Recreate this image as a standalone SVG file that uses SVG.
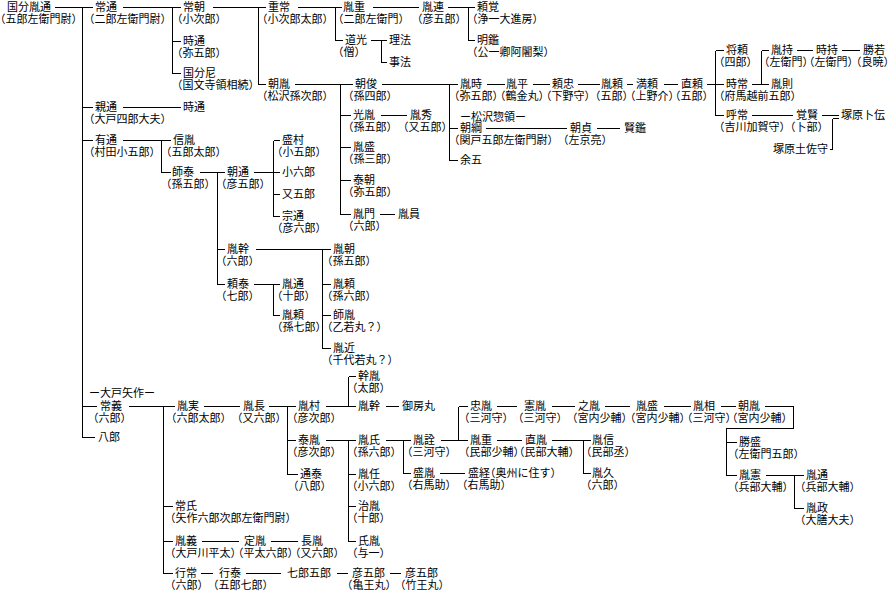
<svg xmlns="http://www.w3.org/2000/svg" width="891" height="591" viewBox="0 0 891 591">
<style>
text{font-family:"Noto Sans CJK JP","Noto Sans CJK SC",sans-serif;font-size:11px;fill:#000;font-feature-settings:"halt";}
.c{stroke:#000;stroke-width:1;fill:none;shape-rendering:crispEdges;}
</style>
<rect width="891" height="591" fill="#fff"/>
<g id="connectors" transform="translate(0.5 0.5)">
<path class="c" d="M54 7H92 M82 7V437 M82 107H92 M82 140H92 M82 406H96 M82 437H94
M122 7H180 M172 7V73 M172 41H180 M172 73H180
M212 7H265 M258 7V84 M258 84H265
M297 7H341 M335 7V40 M335 40H342
M372 7H418
M447 7H474 M468 7V40 M468 40H474
M370 40H386 M381 40V62 M381 62H386
M294 84H352 M340 84V214 M340 115H350 M340 147H350 M340 180H350 M340 214H350
M380 115H406
M379 214H394
M381 84H457 M449 84V160 M449 128H457 M449 160H457
M486 84H504 M532 84H549 M577 84H599 M626 84H632 M663 84H677
M706 84H723 M715 50V115 M715 50H723 M715 115H723
M751 84H768 M761 50V84 M761 50H768
M796 50H812 M841 50H859
M751 115H792
M821 115H838 M832 118H838 M832 118V149 M829 149H832
M485 128H566 M596 128H619
M122 107H180
M122 140H170 M161 140V172 M161 172H170
M199 172H224 M217 172V284 M217 249H224 M217 284H224
M253 172H279 M273 140V216 M273 140H279 M273 194H279 M273 216H279
M255 249H330 M322 249V348 M322 284H330 M322 315H330 M322 348H330
M253 284H279 M273 284V315 M273 315H279
M128 406H174 M163 406V573 M163 506H172 M163 541H172 M163 573H172
M203 406H239
M268 406H295 M287 406V474 M287 440H295 M287 474H297
M325 406H355 M348 376V406 M348 376H355
M385 406H398
M325 440H355 M348 440V541 M348 474H355 M348 506H355 M348 541H355
M385 440H410 M403 440V473 M403 473H410
M439 473H464
M440 440H467 M458 406V440 M458 406H467
M496 406H516 M551 406H574 M604 406H629 M663 406H690 M720 406H735
M764 406H793V428H726V475 M726 442H736 M726 475H736
M765 475H803 M794 475V508 M794 508H803
M496 440H521
M551 440H590 M583 440V473 M583 473H590
M201 541H238 M270 541H297
M200 573H212 M245 573H280 M336 573H347 M389 573H400"/>
</g>
<g id="n01"><text x="7" y="11">国分胤通<tspan x="0" dy="11.5">（五郎左衛門尉）</tspan></text></g>
<g id="n02"><text x="95" y="11">常通<tspan x="89" dy="11.5">（二郎左衛門尉）</tspan></text></g>
<g id="n03"><text x="183" y="11">常朝<tspan x="177" dy="11.5">（小次郎）</tspan></text></g>
<g id="n04"><text x="183" y="45">時通<tspan x="177" dy="11.5">（弥五郎）</tspan></text></g>
<g id="n05"><text x="183" y="77">国分尼<tspan x="177" dy="11.5">（国文寺領相続）</tspan></text></g>
<g id="n06"><text x="268" y="11">重常<tspan x="262" dy="11.5">（小次郎太郎）</tspan></text></g>
<g id="n07"><text x="268" y="88">朝胤<tspan x="262" dy="11.5">（松沢孫次郎）</tspan></text></g>
<g id="n08"><text x="343" y="11">胤重<tspan x="338" dy="11.5">（二郎左衛門）</tspan></text></g>
<g id="n09"><text x="345" y="44">道光<tspan x="338" dy="11.5">（僧）</tspan></text></g>
<g id="n10"><text x="389" y="44">理法</text></g>
<g id="n11"><text x="389" y="66">事法</text></g>
<g id="n12"><text x="422" y="11">胤連<tspan x="417" dy="11.5">（彦五郎）</tspan></text></g>
<g id="n13"><text x="477" y="11">頼覚<tspan x="472" dy="11.5">（浄一大進房）</tspan></text></g>
<g id="n14"><text x="477" y="44">明鑑<tspan x="472" dy="11.5">（公一卿阿闍梨）</tspan></text></g>
<g id="n15"><text x="355" y="88">朝俊<tspan x="348" dy="11.5">（孫四郎）</tspan></text></g>
<g id="n16"><text x="353" y="119">光胤<tspan x="348" dy="11.5">（孫五郎）</tspan></text></g>
<g id="n17"><text x="410" y="119">胤秀<tspan x="403" dy="11.5">（又五郎）</tspan></text></g>
<g id="n18"><text x="353" y="151">胤盛<tspan x="348" dy="11.5">（孫三郎）</tspan></text></g>
<g id="n19"><text x="353" y="184">泰朝<tspan x="348" dy="11.5">（弥五郎）</tspan></text></g>
<g id="n20"><text x="353" y="218">胤門<tspan x="348" dy="11.5">（六郎）</tspan></text></g>
<g id="n21"><text x="398" y="218">胤員</text></g>
<g id="n22"><text x="460" y="88">胤時<tspan x="454" dy="11.5">（弥五郎）</tspan></text></g>
<g id="n23"><text x="460" y="121">ー松沢惣領ー</text><text x="460" y="132">朝綱<tspan x="454" dy="11.5">（関戸五郎左衛門尉）</tspan></text></g>
<g id="n24"><text x="460" y="164">余五</text></g>
<g id="n25"><text x="506" y="88">胤平<tspan x="500" dy="11.5">（鶴金丸）</tspan></text></g>
<g id="n26"><text x="552" y="88">頼忠<tspan x="546" dy="11.5">（下野守）</tspan></text></g>
<g id="n27"><text x="601" y="88">胤頼<tspan x="595" dy="11.5">（五郎）</tspan></text></g>
<g id="n28"><text x="636" y="88">満頼<tspan x="630" dy="11.5">（上野介）</tspan></text></g>
<g id="n29"><text x="681" y="88">直頼<tspan x="675" dy="11.5">（五郎）</tspan></text></g>
<g id="n30"><text x="726" y="54">将頼<tspan x="719" dy="11.5">（四郎）</tspan></text></g>
<g id="n31"><text x="726" y="88">時常<tspan x="719" dy="11.5">（府馬越前五郎）</tspan></text></g>
<g id="n32"><text x="726" y="119">呼常<tspan x="719" dy="11.5">（吉川加賀守）</tspan></text></g>
<g id="n33"><text x="771" y="54">胤持<tspan x="764" dy="11.5">（左衛門）</tspan></text></g>
<g id="n34"><text x="771" y="88">胤則</text></g>
<g id="n35"><text x="816" y="54">時持<tspan x="809" dy="11.5">（左衛門）</tspan></text></g>
<g id="n36"><text x="863" y="54">勝若<tspan x="856" dy="11.5">（良暁）</tspan></text></g>
<g id="n37"><text x="796" y="119">覚賢<tspan x="790" dy="11.5">（卜部）</tspan></text></g>
<g id="n38"><text x="841" y="119">塚原卜伝</text></g>
<g id="n39"><text x="773" y="153">塚原土佐守</text></g>
<g id="n40"><text x="570" y="132">朝貞<tspan x="563" dy="11.5">（左京亮）</tspan></text></g>
<g id="n41"><text x="624" y="132">賢鑑</text></g>
<g id="n42"><text x="95" y="111">親通<tspan x="89" dy="11.5">（大戸四郎大夫）</tspan></text></g>
<g id="n43"><text x="183" y="111">時通</text></g>
<g id="n44"><text x="95" y="144">有通<tspan x="89" dy="11.5">（村田小五郎）</tspan></text></g>
<g id="n45"><text x="173" y="144">信胤<tspan x="166" dy="11.5">（五郎太郎）</tspan></text></g>
<g id="n46"><text x="172" y="176">師泰<tspan x="166" dy="11.5">（孫五郎）</tspan></text></g>
<g id="n47"><text x="227" y="176">朝通<tspan x="221" dy="11.5">（彦五郎）</tspan></text></g>
<g id="n48"><text x="282" y="144">盛村<tspan x="277" dy="11.5">（小五郎）</tspan></text></g>
<g id="n49"><text x="282" y="176">小六郎</text></g>
<g id="n50"><text x="282" y="198">又五郎</text></g>
<g id="n51"><text x="282" y="220">宗通<tspan x="277" dy="11.5">（彦六郎）</tspan></text></g>
<g id="n52"><text x="227" y="253">胤幹<tspan x="221" dy="11.5">（六郎）</tspan></text></g>
<g id="n53"><text x="227" y="288">頼泰<tspan x="221" dy="11.5">（七郎）</tspan></text></g>
<g id="n54"><text x="333" y="253">胤朝<tspan x="327" dy="11.5">（孫五郎）</tspan></text></g>
<g id="n55"><text x="333" y="288">胤頼<tspan x="327" dy="11.5">（孫六郎）</tspan></text></g>
<g id="n56"><text x="333" y="319">師胤<tspan x="327" dy="11.5">（乙若丸？）</tspan></text></g>
<g id="n57"><text x="333" y="352">胤近<tspan x="327" dy="11.5">（千代若丸？）</tspan></text></g>
<g id="n58"><text x="282" y="288">胤通<tspan x="277" dy="11.5">（十郎）</tspan></text></g>
<g id="n59"><text x="282" y="319">胤頼<tspan x="277" dy="11.5">（孫七郎）</tspan></text></g>
<g id="n60"><text x="89" y="397">ー大戸矢作ー</text><text x="100" y="410">常義<tspan x="93" dy="11.5">（六郎）</tspan></text></g>
<g id="n61"><text x="98" y="441">八郎</text></g>
<g id="n62"><text x="177" y="410">胤実<tspan x="171" dy="11.5">（六郎太郎）</tspan></text></g>
<g id="n63"><text x="243" y="410">胤長<tspan x="237" dy="11.5">（又六郎）</tspan></text></g>
<g id="n64"><text x="358" y="380">幹胤<tspan x="352" dy="11.5">（太郎）</tspan></text></g>
<g id="n65"><text x="298" y="410">胤村<tspan x="292" dy="11.5">（彦次郎）</tspan></text></g>
<g id="n66"><text x="358" y="410">胤幹</text></g>
<g id="n67"><text x="402" y="410">御房丸</text></g>
<g id="n68"><text x="298" y="444">泰胤<tspan x="292" dy="11.5">（彦次郎）</tspan></text></g>
<g id="n69"><text x="300" y="478">通泰<tspan x="293" dy="11.5">（八郎）</tspan></text></g>
<g id="n70"><text x="358" y="444">胤氏<tspan x="352" dy="11.5">（孫六郎）</tspan></text></g>
<g id="n71"><text x="358" y="478">胤任<tspan x="352" dy="11.5">（小六郎）</tspan></text></g>
<g id="n72"><text x="358" y="510">治胤<tspan x="352" dy="11.5">（十郎）</tspan></text></g>
<g id="n73"><text x="358" y="545">氏胤<tspan x="352" dy="11.5">（与一）</tspan></text></g>
<g id="n74"><text x="413" y="444">胤詮<tspan x="407" dy="11.5">（三河守）</tspan></text></g>
<g id="n75"><text x="413" y="477">盛胤<tspan x="407" dy="11.5">（右馬助）</tspan></text></g>
<g id="n76"><text x="468" y="477">盛経（奥州に住す）<tspan x="462" dy="11.5">（右馬助）</tspan></text></g>
<g id="n77"><text x="470" y="410">忠胤<tspan x="464" dy="11.5">（三河守）</tspan></text></g>
<g id="n78"><text x="470" y="444">胤重<tspan x="464" dy="11.5">（民部少輔）</tspan></text></g>
<g id="n79"><text x="524" y="410">憲胤<tspan x="518" dy="11.5">（三河守）</tspan></text></g>
<g id="n80"><text x="525" y="444">直胤<tspan x="519" dy="11.5">（民部大輔）</tspan></text></g>
<g id="n81"><text x="578" y="410">之胤<tspan x="572" dy="11.5">（宮内少輔）</tspan></text></g>
<g id="n82"><text x="592" y="444">胤信<tspan x="586" dy="11.5">（民部丞）</tspan></text></g>
<g id="n83"><text x="592" y="477">胤久<tspan x="586" dy="11.5">（六郎）</tspan></text></g>
<g id="n84"><text x="636" y="410">胤盛<tspan x="630" dy="11.5">（宮内少輔）</tspan></text></g>
<g id="n85"><text x="693" y="410">胤相<tspan x="687" dy="11.5">（三河守）</tspan></text></g>
<g id="n86"><text x="738" y="410">朝胤<tspan x="732" dy="11.5">（宮内少輔）</tspan></text></g>
<g id="n87"><text x="739" y="446">勝盛<tspan x="733" dy="11.5">（左衛門五郎）</tspan></text></g>
<g id="n88"><text x="739" y="479">胤憲<tspan x="733" dy="11.5">（兵部大輔）</tspan></text></g>
<g id="n89"><text x="806" y="479">胤通<tspan x="800" dy="11.5">（兵部大輔）</tspan></text></g>
<g id="n90"><text x="806" y="512">胤政<tspan x="800" dy="11.5">（大膳大夫）</tspan></text></g>
<g id="n91"><text x="175" y="510">常氏<tspan x="170" dy="11.5">（矢作六郎次郎左衛門尉）</tspan></text></g>
<g id="n92"><text x="175" y="545">胤義<tspan x="170" dy="11.5">（大戸川平太）</tspan></text></g>
<g id="n93"><text x="244" y="545">定胤<tspan x="238" dy="11.5">（平太六郎）</tspan></text></g>
<g id="n94"><text x="301" y="545">長胤<tspan x="295" dy="11.5">（又六郎）</tspan></text></g>
<g id="n95"><text x="175" y="577">行常<tspan x="170" dy="11.5">（六郎）</tspan></text></g>
<g id="n96"><text x="219" y="577">行泰<tspan x="213" dy="11.5">（五郎七郎）</tspan></text></g>
<g id="n97"><text x="287" y="577">七郎五郎</text></g>
<g id="n98"><text x="352" y="577">彦五郎<tspan x="347" dy="11.5">（亀王丸）</tspan></text></g>
<g id="n99"><text x="405" y="577">彦五郎<tspan x="400" dy="11.5">（竹王丸）</tspan></text></g>
</svg>
